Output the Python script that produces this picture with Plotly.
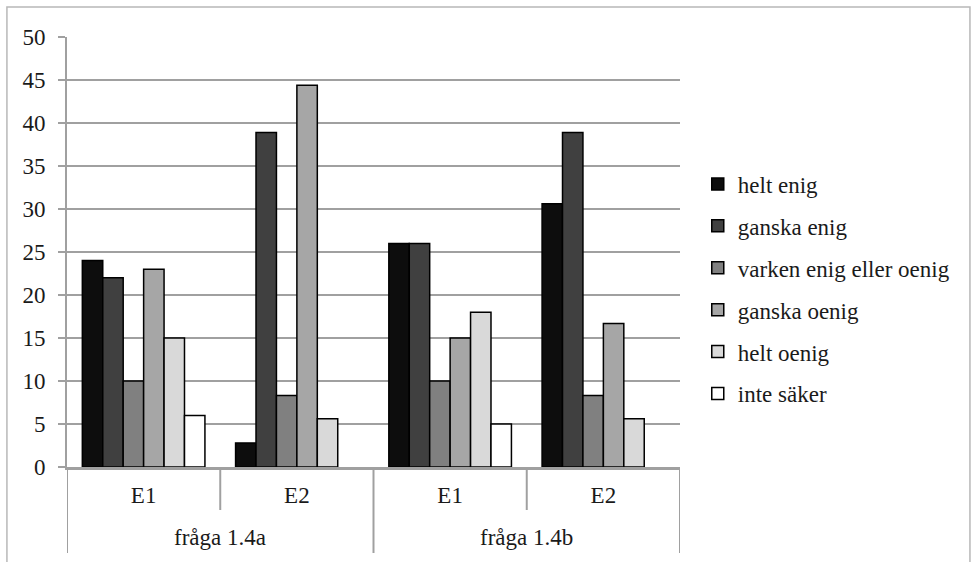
import plotly.graph_objects as go

questions = ["fråga 1.4a", "fråga 1.4b"]
groups = ["E1", "E2", "E1", "E2"]
positions = [0, 1, 2, 3]

series_names = ["helt enig", "ganska enig", "varken enig eller oenig",
                "ganska oenig", "helt oenig", "inte säker"]
helt_enig = [24, 2.8, 26, 30.6]
ganska_enig = [22, 38.9, 26, 38.9]
varken = [10, 8.3, 10, 8.3]
ganska_oenig = [23, 44.4, 15, 16.7]
helt_oenig = [15, 5.6, 18, 5.6]
inte_saker = [6, None, 5, None]
series_values = [helt_enig, ganska_enig, varken, ganska_oenig, helt_oenig, inte_saker]
colors = ["#0d0d0d", "#404040", "#808080", "#a6a6a6", "#d9d9d9", "#ffffff"]

y_ticks = list(range(0, 51, 5))

FONT = "Liberation Serif, DejaVu Serif, serif"
FS = 23
TXT = "#1a1a1a"
GRID = "#a0a0a0"

fig = go.Figure()
for i, (name, vals) in enumerate(zip(series_names, series_values)):
    fig.add_trace(go.Bar(
        x=positions, y=vals, name=name,
        marker=dict(color=colors[i], line=dict(color="#000000", width=1.5)),
        legendgroup=f"g{i}",
    ))

shapes = []
for xb in [0.5, 2.5]:
    shapes.append(dict(type="line", xref="x", yref="paper", x0=xb, x1=xb,
                       y0=0, y1=-0.1, line=dict(color=GRID, width=2)))
for xb in [-0.5, 1.5, 3.5]:
    shapes.append(dict(type="line", xref="x", yref="paper", x0=xb, x1=xb,
                       y0=0, y1=-0.2, line=dict(color=GRID, width=2)))
shapes.append(dict(type="rect", xref="paper", yref="paper",
                   x0=-0.098, x1=1.473, y0=-0.25, y1=1.07,
                   line=dict(color="#b8b8b8", width=1.5), fillcolor="rgba(0,0,0,0)",
                   layer="below"))

annotations = []
for qi, q in enumerate(questions):
    annotations.append(dict(text=q, xref="x", yref="paper", x=qi * 2 + 0.5, y=-0.165,
                            showarrow=False, xanchor="center", yanchor="middle",
                            font=dict(family=FONT, size=FS, color=TXT)))

fig.update_layout(
    width=973, height=562,
    barmode="group", bargap=0.2, bargroupgap=0,
    plot_bgcolor="white", paper_bgcolor="white",
    margin=dict(l=67, r=293, t=37, b=95),
    font=dict(family=FONT, size=FS, color=TXT),
    legend=dict(x=1.029, y=0.414, yanchor="middle", xanchor="left",
                font=dict(family=FONT, size=FS, color=TXT),
                tracegroupgap=9, itemwidth=30),
    showlegend=True,
    shapes=shapes,
    annotations=annotations,
)
fig.update_yaxes(range=[0, 50], tickvals=y_ticks, showgrid=True,
                 gridcolor=GRID, gridwidth=2,
                 showline=True, linecolor=GRID, linewidth=2,
                 ticks="outside", ticklen=7, tickcolor=GRID, tickwidth=2,
                 ticklabelstandoff=8,
                 tickfont=dict(family=FONT, size=FS, color=TXT),
                 zeroline=False, fixedrange=True)
fig.update_xaxes(range=[-0.5, 3.5], tickvals=positions, ticktext=groups,
                 showline=True, linecolor=GRID, linewidth=3,
                 ticks="", ticklabelstandoff=5,
                 tickfont=dict(family=FONT, size=FS, color=TXT),
                 showgrid=False, zeroline=False, fixedrange=True)

fig.write_html("out.html", config={"displayModeBar": False},
               post_script="document.body.style.margin='0';")
